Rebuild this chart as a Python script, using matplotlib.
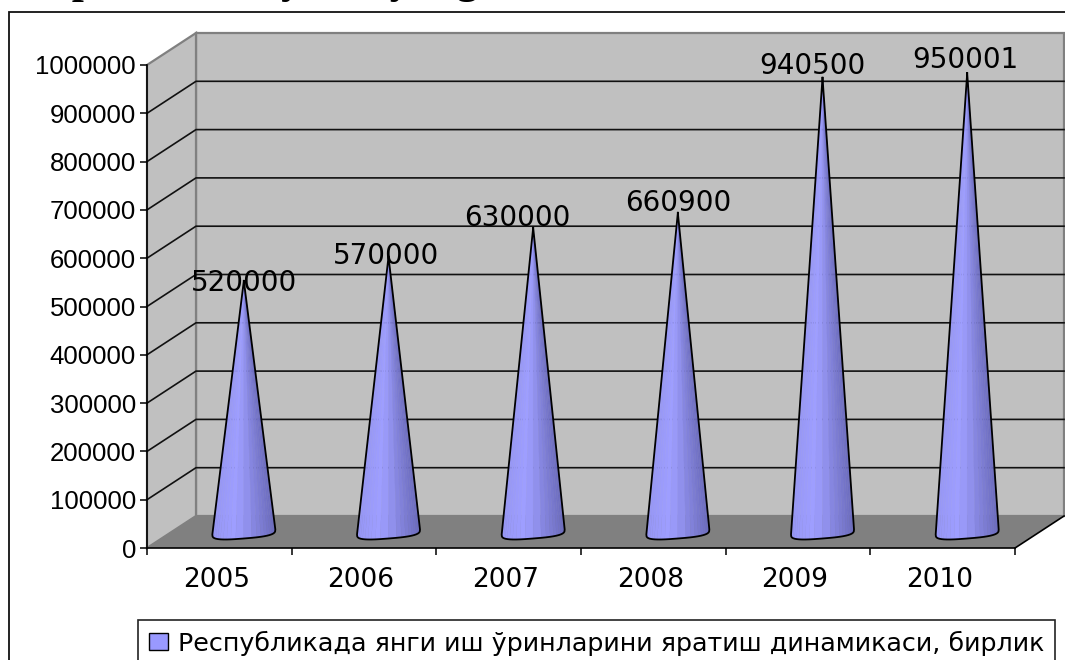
import numpy as np
import matplotlib
matplotlib.use("Agg")
import matplotlib.pyplot as plt
from matplotlib.patches import Patch, Polygon, Rectangle
from matplotlib.transforms import ScaledTranslation


# data
YEARS  = ["2005", "2006", "2007", "2008", "2009", "2010"]
VALUES = [520000, 570000, 630000, 660900, 940500, 950001]
Y_TICKS = [0, 100000, 200000, 300000, 400000, 500000,
           600000, 700000, 800000, 900000, 1000000]
LEGEND_LABEL = "Республикада янги иш ўринларини яратиш динамикаси, бирлик"
TITLE = "Respublika bo'yicha yangi ish o'rinlari dinamikasi, birlik"

# label nudges in pixels, the labels do not sit on the tips in the original
LABEL_DX = [0, -3, -16, 0, -10, -2]
LABEL_DY = [-2, 1, 10, 10, 12, 13]

W, H = 1065, 660
LEFT, RIGHT, BOTTOM, TOP = 147, 1064, 548, 33
PX_X = 144.67            # pixels per category
PX_Y = 483 / 1000000     # pixels per unit of value
DEPTH_X = 49 / PX_X
DEPTH_Y = 32 / PX_Y
WALL   = "#c0c0c0"
FLOOR  = "#808080"
EDGE   = "#808080"


def cone(ax, center, value):
    # skewed bottom edge of the cone, in pixels round the base centre
    t = np.linspace(np.pi, 2 * np.pi, 23)
    bx = 31.5 * np.sign(np.cos(t)) * np.abs(np.cos(t)) ** 0.7
    by = 2.5 * bx / 31.5 - 6.5 * np.abs(np.sin(t)) ** 0.6
    base_x = center + DEPTH_X / 2 + bx / PX_X
    base_y = DEPTH_Y / 2 + by / PX_Y
    tip_x = center + DEPTH_X / 2
    tip_y = value + DEPTH_Y / 2

    dark = np.array([0.42, 0.42, 0.74])
    light = np.array([0.62, 0.62, 1.00])
    for i in range(len(t) - 1):
        f = (bx[i] + 31.5) / 63
        k = 0.85 + 0.15 * f / 0.3 if f < 0.3 else 1 - (f - 0.3) / 0.7
        col = dark + (light - dark) * k
        ax.add_patch(Polygon([(base_x[i], base_y[i]), (base_x[i + 1], base_y[i + 1]),
                              (tip_x, tip_y)],
                             facecolor=col, edgecolor=col, linewidth=0.3, zorder=3))

    out_x = np.r_[tip_x, base_x, tip_x]
    out_y = np.r_[tip_y, base_y, tip_y]
    ax.plot(out_x, out_y, color="black", linewidth=1.3, zorder=4,
            solid_joinstyle="round", clip_on=False)


def main():
    fig = plt.figure(figsize=(W / 100, H / 100), dpi=100)
    fig.patch.set_facecolor("white")

    ax = fig.add_axes([LEFT / W, (H - BOTTOM) / H, (RIGHT - LEFT) / W, (BOTTOM - TOP) / H])
    n = len(YEARS)
    top = (BOTTOM - TOP) / PX_Y
    ax.set_xlim(0, (RIGHT - LEFT) / PX_X)
    ax.set_ylim(0, top)
    ax.patch.set_visible(False)

    ymax = Y_TICKS[-1]

    # back wall, side wall, floor
    ax.add_patch(Polygon([(DEPTH_X, DEPTH_Y), (n + DEPTH_X, DEPTH_Y),
                          (n + DEPTH_X, ymax + DEPTH_Y), (DEPTH_X, ymax + DEPTH_Y)],
                         facecolor=WALL, edgecolor=EDGE, linewidth=1.6, zorder=1, clip_on=False))
    ax.add_patch(Polygon([(0, 0), (DEPTH_X, DEPTH_Y), (DEPTH_X, ymax + DEPTH_Y), (0, ymax)],
                         facecolor=WALL, edgecolor=EDGE, linewidth=1.6, zorder=1, clip_on=False))
    ax.add_patch(Polygon([(0, 0), (DEPTH_X, DEPTH_Y), (n + DEPTH_X, DEPTH_Y), (n, 0)],
                         facecolor=FLOOR, edgecolor="none", zorder=1, clip_on=False))
    ax.plot([n, n + DEPTH_X], [0, DEPTH_Y], color="black", linewidth=1.2, zorder=2, clip_on=False)

    # gridlines run along the side wall and across the back wall
    for v in Y_TICKS[1:-1]:
        ax.plot([0, DEPTH_X, n + DEPTH_X], [v, v + DEPTH_Y, v + DEPTH_Y],
                color="#111111", linewidth=1.2, zorder=2, clip_on=False)

    for i, v in enumerate(VALUES):
        cone(ax, i + 0.5, v)
        ax.annotate(str(v), (i + 0.5 + DEPTH_X / 2, v + DEPTH_Y / 2),
                    xytext=(LABEL_DX[i], LABEL_DY[i]), textcoords="offset pixels",
                    ha="center", va="center", fontsize=20, color="black",
                    family="DejaVu Sans", zorder=5)

    for s in ("top", "right"):
        ax.spines[s].set_visible(False)
    for s in ("left", "bottom"):
        ax.spines[s].set_linewidth(1.2)
        ax.spines[s].set_zorder(6)
    ax.spines["left"].set_bounds(0, ymax)
    ax.spines["bottom"].set_bounds(0, n)

    ax.set_yticks(Y_TICKS)
    ax.set_yticklabels([str(v) for v in Y_TICKS], family="Liberation Sans", fontsize=18.5)
    ax.tick_params(axis="y", length=5, width=1.1, pad=3)
    ax.set_xticks(range(n + 1))
    ax.set_xticklabels([])
    ax.tick_params(axis="x", which="major", length=5, width=1.1)
    ax.set_xticks(np.arange(n) + 0.5, labels=YEARS, minor=True, family="DejaVu Sans", fontsize=19)
    ax.tick_params(axis="x", which="minor", length=0, pad=14)
    nudge = ScaledTranslation(-3 / 100, 0, fig.dpi_scale_trans)
    for label in ax.get_xticklabels(minor=True):
        label.set_transform(label.get_transform() + nudge)

    # outer chart frame, open past the right and bottom of the picture
    fig.add_artist(Rectangle((9 / W, -0.1), 1.1, 1.1 - 12 / H, transform=fig.transFigure,
                             facecolor="none", edgecolor="#111111", linewidth=1.3, zorder=0))

    # the heading is cut by the top edge, only its descenders show
    fig.text(530 / W, 1 + 7 / H, TITLE, ha="center", va="baseline", family="Liberation Serif",
             fontweight="bold", fontsize=31, color="black")

    handle = Patch(facecolor="#9999ff", edgecolor="black", linewidth=1)
    leg = fig.legend([handle], [LEGEND_LABEL], loc="upper left",
                     bbox_to_anchor=(138 / W, 1 - 620 / H), bbox_transform=fig.transFigure,
                     fancybox=False, framealpha=1, edgecolor="#222222",
                     prop={"family": "DejaVu Sans", "size": 18.25},
                     borderaxespad=0, borderpad=0.42, handlelength=0.76, handleheight=0.64,
                     handletextpad=0.4)
    leg.get_frame().set_linewidth(1.2)

    fig.savefig("out.png", dpi=100)


if __name__ == "__main__":
    main()
